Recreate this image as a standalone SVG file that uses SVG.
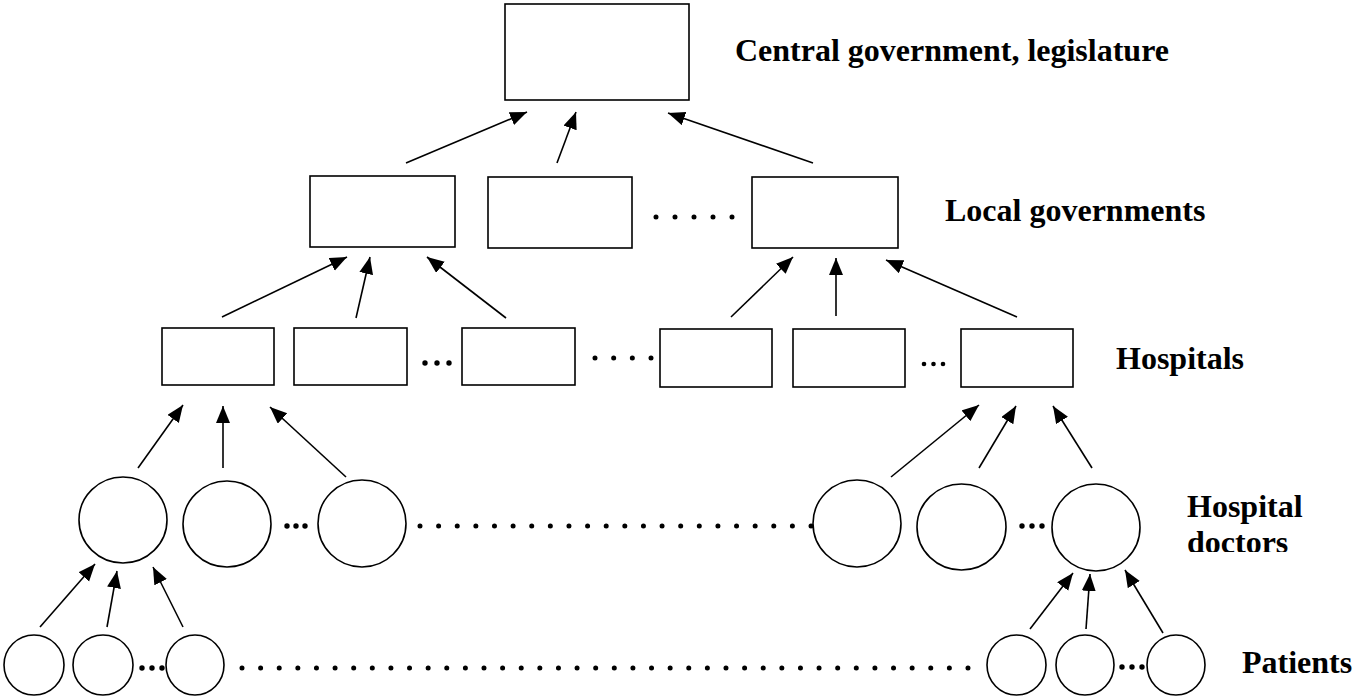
<svg xmlns="http://www.w3.org/2000/svg" width="1354" height="696" viewBox="0 0 1354 696">
<style>
.box{fill:#fff;stroke:#000;stroke-width:1.6}
.node{fill:#fff;stroke:#000;stroke-width:1.6}
.lbl{font-family:"Liberation Serif","Times New Roman",serif;font-weight:bold;font-size:32px;fill:#000}
.arr{stroke:#000;stroke-width:1.6;fill:none;marker-end:url(#ah)}
.dots{stroke:#000;stroke-width:5;stroke-linecap:round;stroke-dasharray:0 18.62;fill:none}
.d{fill:#000}
</style>
<defs>
<marker id="ah" markerUnits="userSpaceOnUse" markerWidth="20" markerHeight="16" refX="17" refY="7" orient="auto">
<path d="M0,0 L17,7 L0,14 z" fill="#000"/>
</marker>
<clipPath id="clipDoc"><rect x="1100" y="480" width="254" height="72"/></clipPath>
</defs>
<rect width="1354" height="696" fill="#fff"/>

<g id="central"><rect class="box" x="505" y="4" width="184" height="96"/></g>
<g id="local1"><rect class="box" x="310" y="176" width="145" height="71"/></g>
<g id="local2"><rect class="box" x="488" y="177" width="144" height="71"/></g>
<g id="local3"><rect class="box" x="752" y="177" width="146" height="71"/></g>

<g id="hosp1"><rect class="box" x="162" y="328" width="112" height="57"/></g>
<g id="hosp2"><rect class="box" x="294" y="328" width="113" height="57"/></g>
<g id="hosp3"><rect class="box" x="462" y="328" width="113" height="57"/></g>
<g id="hosp4"><rect class="box" x="660" y="329" width="112" height="58"/></g>
<g id="hosp5"><rect class="box" x="793" y="329" width="112" height="58"/></g>
<g id="hosp6"><rect class="box" x="961" y="329" width="112" height="58"/></g>

<g id="doc1"><ellipse class="node" cx="123" cy="520" rx="44" ry="43"/></g>
<g id="doc2"><ellipse class="node" cx="227" cy="524" rx="44" ry="43"/></g>
<g id="doc3"><ellipse class="node" cx="362" cy="523.5" rx="44" ry="43.5"/></g>
<g id="doc4"><ellipse class="node" cx="857" cy="523.5" rx="44" ry="43.5"/></g>
<g id="doc5"><ellipse class="node" cx="961.5" cy="527" rx="44.5" ry="43"/></g>
<g id="doc6"><ellipse class="node" cx="1096" cy="527.5" rx="44" ry="43.5"/></g>

<g id="pat1"><ellipse class="node" cx="34" cy="665" rx="30" ry="30"/></g>
<g id="pat2"><ellipse class="node" cx="103" cy="665" rx="30" ry="30"/></g>
<g id="pat3"><ellipse class="node" cx="195" cy="665" rx="29" ry="30"/></g>
<g id="pat4"><ellipse class="node" cx="1016.5" cy="665" rx="29.5" ry="30"/></g>
<g id="pat5"><ellipse class="node" cx="1085" cy="665" rx="29" ry="30"/></g>
<g id="pat6"><ellipse class="node" cx="1176" cy="665" rx="29" ry="30"/></g>

<g id="connectors">
<line class="arr" x1="406" y1="163" x2="527" y2="112"/>
<line class="arr" x1="557" y1="163" x2="576" y2="112"/>
<line class="arr" x1="813" y1="163" x2="668" y2="113"/>
<line class="arr" x1="222" y1="317" x2="347" y2="257"/>
<line class="arr" x1="356" y1="318" x2="370" y2="257"/>
<line class="arr" x1="506" y1="318" x2="427" y2="257"/>
<line class="arr" x1="731" y1="317" x2="793" y2="257"/>
<line class="arr" x1="836" y1="316" x2="836" y2="258"/>
<line class="arr" x1="1017" y1="317" x2="886" y2="260"/>
<line class="arr" x1="138" y1="468" x2="183" y2="405"/>
<line class="arr" x1="223" y1="468" x2="223" y2="406"/>
<line class="arr" x1="346" y1="477" x2="270" y2="407"/>
<line class="arr" x1="891" y1="477" x2="979" y2="405"/>
<line class="arr" x1="979" y1="468" x2="1016" y2="406"/>
<line class="arr" x1="1092" y1="468" x2="1053" y2="406"/>
<line class="arr" x1="40" y1="627" x2="95" y2="564"/>
<line class="arr" x1="107" y1="627" x2="117" y2="571"/>
<line class="arr" x1="183" y1="627" x2="153" y2="567"/>
<line class="arr" x1="1030" y1="629" x2="1073" y2="573"/>
<line class="arr" x1="1086" y1="629" x2="1090" y2="574"/>
<line class="arr" x1="1163" y1="633" x2="1125" y2="570"/>
</g>

<g id="ellipses">
<line class="dots" x1="656" y1="217" x2="733" y2="217" style="stroke-dasharray:0 19"/>
<circle class="d" cx="425" cy="363" r="2.7"/><circle class="d" cx="437" cy="363" r="2.7"/><circle class="d" cx="449" cy="363" r="2.7"/>
<line class="dots" x1="595" y1="358" x2="652" y2="358" style="stroke-dasharray:0 18.67"/>
<circle class="d" cx="924" cy="364" r="2.3"/><circle class="d" cx="933.5" cy="364" r="2.3"/><circle class="d" cx="943" cy="364" r="2.3"/>
<circle class="d" cx="287" cy="526" r="2.7"/><circle class="d" cx="296" cy="526" r="2.7"/><circle class="d" cx="305" cy="526" r="2.7"/>
<line class="dots" x1="420" y1="526" x2="812" y2="526"/>
<circle class="d" cx="1022" cy="526" r="2.7"/><circle class="d" cx="1032" cy="526" r="2.7"/><circle class="d" cx="1042" cy="526" r="2.7"/>
<circle class="d" cx="142" cy="668" r="2.7"/><circle class="d" cx="152" cy="668" r="2.7"/><circle class="d" cx="162" cy="668" r="2.7"/>
<line class="dots" x1="242" y1="668" x2="969" y2="668" style="stroke-dasharray:0 18.615"/>
<circle class="d" cx="1122" cy="667" r="2.7"/><circle class="d" cx="1132" cy="667" r="2.7"/><circle class="d" cx="1142" cy="667" r="2.7"/>
</g>

<g id="labels">
<text class="lbl" x="735" y="61">Central government, legislature</text>
<text class="lbl" x="945" y="221">Local governments</text>
<text class="lbl" x="1116" y="369">Hospitals</text>
<text class="lbl" x="1187" y="517">Hospital</text>
<text class="lbl" x="1187" y="553" clip-path="url(#clipDoc)">doctors</text>
<text class="lbl" x="1242" y="673">Patients</text>
</g>
</svg>
